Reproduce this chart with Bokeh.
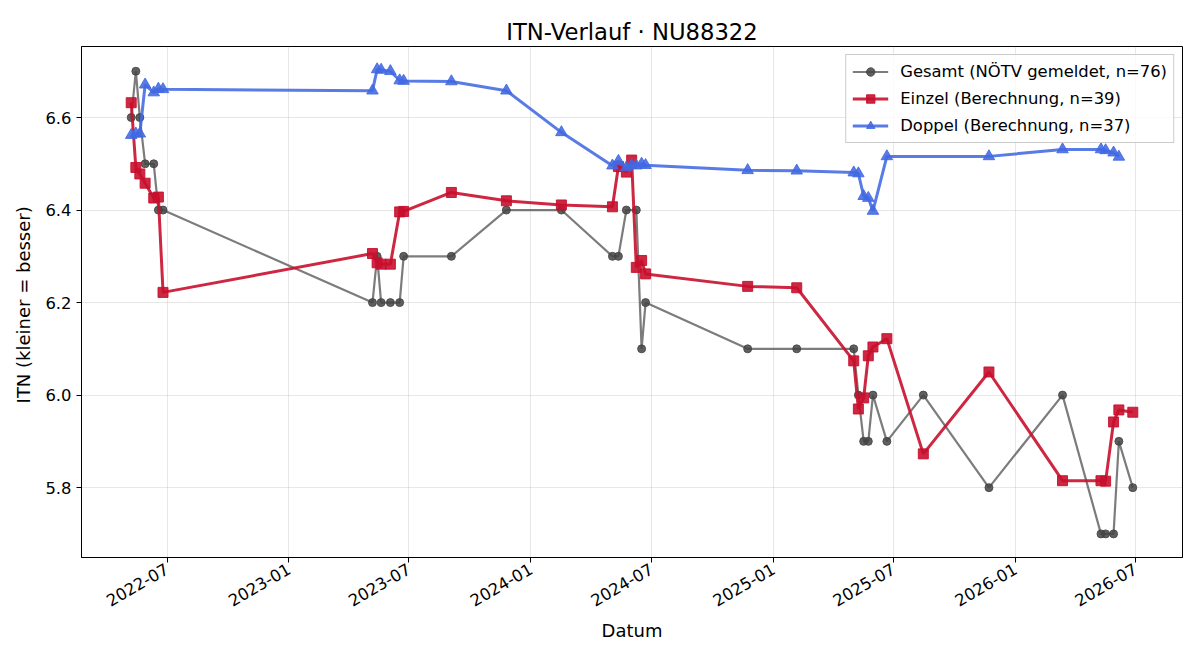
import math
import pandas as pd
from bokeh.plotting import figure
from bokeh.models import Range1d, FixedTicker, DatetimeTickFormatter, PrintfTickFormatter, Legend, LegendItem
from bokeh.embed import file_html
from bokeh.resources import INLINE

# ---------------- data ----------------
gesamt_dates = ["2022-05-08", "2022-05-15", "2022-05-21", "2022-05-29", "2022-06-11", "2022-06-18", "2022-06-25",
                "2023-05-07", "2023-05-14", "2023-05-20", "2023-06-03", "2023-06-17", "2023-06-23",
                "2023-09-03", "2023-11-25", "2024-02-16",
                "2024-05-03", "2024-05-12", "2024-05-24", "2024-06-08", "2024-06-16", "2024-06-22",
                "2024-11-23", "2025-02-05",
                "2025-05-02", "2025-05-09", "2025-05-17", "2025-05-24", "2025-05-31", "2025-06-21",
                "2025-08-15", "2025-11-22", "2026-03-13",
                "2026-05-10", "2026-05-17", "2026-05-29", "2026-06-06", "2026-06-27"]
gesamt_itn = [6.6, 6.7, 6.6, 6.5, 6.5, 6.4, 6.4,
              6.2, 6.3, 6.2, 6.2, 6.2, 6.3,
              6.3, 6.4, 6.4,
              6.3, 6.3, 6.4, 6.4, 6.1, 6.2,
              6.1, 6.1,
              6.1, 6.0, 5.9, 5.9, 6.0, 5.9,
              6.0, 5.8, 6.0,
              5.7, 5.7, 5.7, 5.9, 5.8]

einzel_dates = ["2022-05-08", "2022-05-15", "2022-05-21", "2022-05-29", "2022-06-11", "2022-06-18", "2022-06-25",
                "2023-05-07", "2023-05-14", "2023-05-20", "2023-06-03", "2023-06-17", "2023-06-23",
                "2023-09-03", "2023-11-25", "2024-02-16",
                "2024-05-03", "2024-05-12", "2024-05-24", "2024-06-01", "2024-06-08", "2024-06-16", "2024-06-22",
                "2024-11-23", "2025-02-05",
                "2025-05-02", "2025-05-09", "2025-05-17", "2025-05-24", "2025-05-31", "2025-06-21",
                "2025-08-15", "2025-11-22", "2026-03-13",
                "2026-05-10", "2026-05-17", "2026-05-29", "2026-06-06", "2026-06-27"]
einzel_itn = [6.632, 6.492, 6.478, 6.458, 6.426, 6.428, 6.222,
              6.306, 6.286, 6.283, 6.283, 6.396, 6.397,
              6.438, 6.420, 6.411,
              6.407, 6.494, 6.482, 6.508, 6.276, 6.291, 6.262,
              6.235, 6.232,
              6.074, 5.970, 5.994, 6.085, 6.104, 6.122,
              5.873, 6.050, 5.815,
              5.815, 5.814, 5.942, 5.968, 5.963]

doppel_dates = ["2022-05-08", "2022-05-15", "2022-05-21", "2022-05-29", "2022-06-11", "2022-06-18", "2022-06-25",
                "2023-05-07", "2023-05-14", "2023-05-20", "2023-06-03", "2023-06-17", "2023-06-23",
                "2023-09-03", "2023-11-25", "2024-02-16",
                "2024-05-03", "2024-05-12", "2024-05-24", "2024-06-01", "2024-06-08", "2024-06-16", "2024-06-22",
                "2024-11-23", "2025-02-05",
                "2025-05-02", "2025-05-09", "2025-05-17", "2025-05-24", "2025-05-31", "2025-06-21",
                "2025-11-22", "2026-03-13",
                "2026-05-10", "2026-05-17", "2026-05-29", "2026-06-06"]
doppel_itn = [6.562, 6.565, 6.565, 6.671, 6.654, 6.662, 6.661,
              6.658, 6.704, 6.703, 6.700, 6.680, 6.679,
              6.678, 6.658, 6.568,
              6.496, 6.506, 6.492, 6.497, 6.496, 6.500, 6.497,
              6.486, 6.485,
              6.481, 6.479, 6.430, 6.426, 6.398, 6.516,
              6.516, 6.531,
              6.531, 6.529, 6.524, 6.515]

x_tick_dates = ["2022-07-01", "2023-01-01", "2023-07-01", "2024-01-01", "2024-07-01",
                "2025-01-01", "2025-07-01", "2026-01-01", "2026-07-01"]
y_ticks = [5.8, 6.0, 6.2, 6.4, 6.6]

labels = ["Gesamt (NÖTV gemeldet, n=76)", "Einzel (Berechnung, n=39)", "Doppel (Berechnung, n=37)"]

# ---------------- plot ----------------
FONT = "DejaVu Sans"

x_start = pd.Timestamp("2022-02-22")
x_end = pd.Timestamp("2026-09-10")

p = figure(width=1200, height=660, x_axis_type="datetime",
           output_backend="svg", toolbar_location=None,
           x_range=Range1d(x_start, x_end), y_range=Range1d(5.649, 6.7535),
           min_border_left=81, min_border_right=18, min_border_top=46, min_border_bottom=103)

p.title.text = "ITN-Verlauf · NU88322"
p.title.align = "center"
p.title.text_font = FONT
p.title.text_font_size = "22.7px"
p.title.text_font_style = "normal"
p.title.text_color = "black"
p.title.standoff = 4

gd = pd.to_datetime(gesamt_dates)
ed = pd.to_datetime(einzel_dates)
dd = pd.to_datetime(doppel_dates)

g_line = p.line(gd, gesamt_itn, line_color="#444444", line_alpha=0.7, line_width=2.2)
g_pts = p.scatter(gd, gesamt_itn, marker="circle", size=8, fill_color="#444444", line_color="#444444",
                  fill_alpha=0.85, line_alpha=0.85)

e_line = p.line(ed, einzel_itn, line_color="#C8102E", line_alpha=0.9, line_width=3)
e_pts = p.scatter(ed, einzel_itn, marker="square", size=10, fill_color="#C8102E", line_color="#C8102E",
                  fill_alpha=0.9, line_alpha=0.9)

d_line = p.line(dd, doppel_itn, line_color="#4169E1", line_alpha=0.88, line_width=3)
d_pts = p.scatter(dd, doppel_itn, marker="triangle", size=11.5, fill_color="#4169E1", line_color="#4169E1",
                  fill_alpha=0.88, line_alpha=0.88)

legend = Legend(items=[
    LegendItem(label=labels[0], renderers=[g_line, g_pts]),
    LegendItem(label=labels[1], renderers=[e_line, e_pts]),
    LegendItem(label=labels[2], renderers=[d_line, d_pts]),
], location="top_right")
legend.label_text_font = FONT
legend.label_text_font_size = "16.4px"
legend.label_text_color = "black"
legend.border_line_color = "#cccccc"
legend.border_line_alpha = 1
legend.background_fill_alpha = 0.8
legend.margin = 8
legend.padding = 6
legend.spacing = 6
legend.glyph_width = 36
legend.label_standoff = 12
legend.label_height = 21
legend.glyph_height = 21
p.add_layout(legend)

# axes
p.xaxis.ticker = FixedTicker(ticks=[pd.Timestamp(d).value / 1e6 for d in x_tick_dates])
p.xaxis.formatter = DatetimeTickFormatter(days="%Y-%m", months="%Y-%m", years="%Y-%m")
p.xaxis.major_label_orientation = math.pi / 6
p.yaxis.ticker = FixedTicker(ticks=y_ticks)
p.yaxis.formatter = PrintfTickFormatter(format="%.1f")

for ax in (p.xaxis, p.yaxis):
    ax.axis_line_color = "black"
    ax.major_tick_line_color = "black"
    ax.major_tick_out = 5
    ax.major_tick_in = 0
    ax.minor_tick_line_color = None
    ax.major_label_text_font = FONT
    ax.major_label_text_font_size = "16.4px"
    ax.major_label_text_color = "black"
    ax.major_label_standoff = 5
    ax.axis_label_text_font = FONT
    ax.axis_label_text_font_size = "18px"
    ax.axis_label_text_font_style = "normal"
    ax.axis_label_text_color = "black"

p.yaxis.axis_label_standoff = 8
p.xaxis.axis_label = "Datum"
p.yaxis.axis_label = "ITN  (kleiner = besser)"

p.xgrid.grid_line_color = "#b0b0b0"
p.xgrid.grid_line_alpha = 0.3
p.ygrid.grid_line_color = "#b0b0b0"
p.ygrid.grid_line_alpha = 0.3
p.xgrid.ticker = p.xaxis.ticker
p.ygrid.ticker = p.yaxis.ticker

p.outline_line_color = "black"
p.outline_line_alpha = 1
p.outline_line_width = 1
p.background_fill_color = "white"
p.border_fill_color = "white"

open("out.html", "w").write(file_html(p, INLINE))
